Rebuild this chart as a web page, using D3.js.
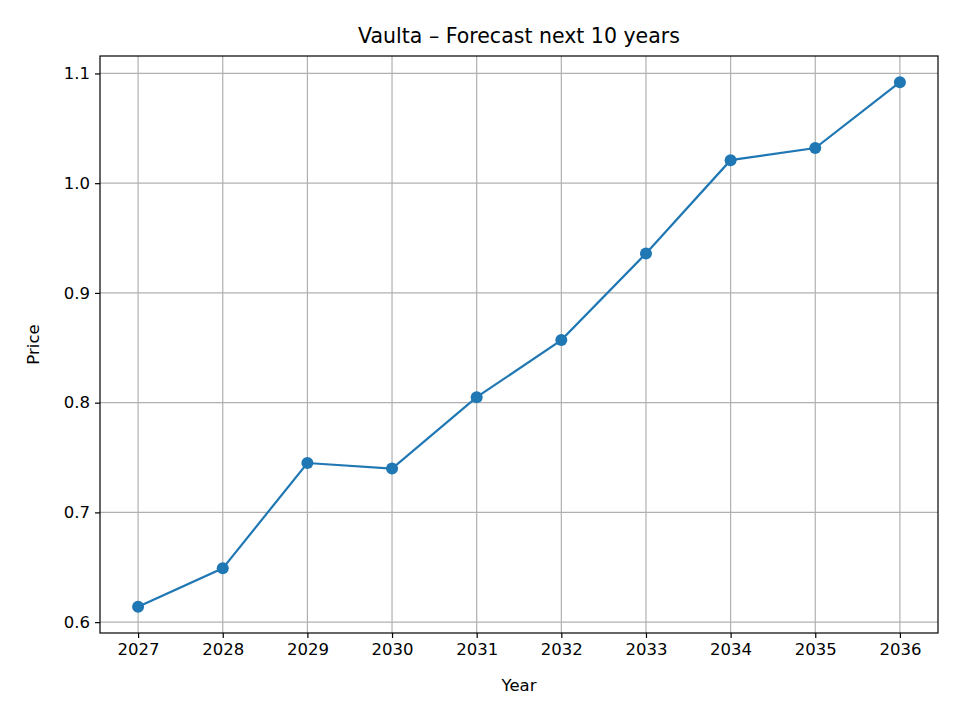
<!DOCTYPE html>
<html>
<head>
    <script src="https://d3js.org/d3.v7.min.js"></script>
    <style>
        body { margin: 0; background: #fff; }
        text { font-family: "DejaVu Sans", sans-serif; fill: #000; }
    </style>
</head>
<body>
    <div id="chart"></div>

    <script>
        // Data
        const years = [2027, 2028, 2029, 2030, 2031, 2032, 2033, 2034, 2035, 2036];
        const prices = [0.614, 0.649, 0.745, 0.740, 0.805, 0.857, 0.936, 1.021, 1.032, 1.092];
        const yTicks = [0.6, 0.7, 0.8, 0.9, 1.0, 1.1];

        const width = 960, height = 720;
        const margin = { top: 56, right: 22, bottom: 87, left: 100 };
        const iw = width - margin.left - margin.right;
        const ih = height - margin.top - margin.bottom;

        const svg = d3.select("#chart").append("svg")
            .attr("width", width)
            .attr("height", height);

        const g = svg.append("g")
            .attr("transform", `translate(${margin.left},${margin.top})`);

        // 5% padding like matplotlib
        const xPad = (d3.max(years) - d3.min(years)) * 0.05;
        const x = d3.scaleLinear()
            .domain([d3.min(years) - xPad, d3.max(years) + xPad])
            .range([0, iw]);

        const yMin = d3.min(prices), yMax = d3.max(prices);
        const yPad = (yMax - yMin) * 0.05;
        const y = d3.scaleLinear()
            .domain([yMin - yPad, yMax + yPad])
            .range([ih, 0]);

        // grid
        g.append("g").selectAll("line").data(years).join("line")
            .attr("x1", d => x(d)).attr("x2", d => x(d))
            .attr("y1", 0).attr("y2", ih)
            .attr("stroke", "#b0b0b0").attr("stroke-width", 1.2);
        g.append("g").selectAll("line").data(yTicks).join("line")
            .attr("y1", d => y(d)).attr("y2", d => y(d))
            .attr("x1", 0).attr("x2", iw)
            .attr("stroke", "#b0b0b0").attr("stroke-width", 1.2);

        // axes
        const xAxis = g.append("g")
            .attr("transform", `translate(0,${ih})`)
            .call(d3.axisBottom(x).tickValues(years).tickFormat(d3.format("d")).tickSize(5).tickPadding(5));
        const yAxis = g.append("g")
            .call(d3.axisLeft(y).tickValues(yTicks).tickFormat(d3.format(".1f")).tickSize(5).tickPadding(5));
        [xAxis, yAxis].forEach(a => {
            a.select(".domain").remove();
            a.selectAll("text").style("font-size", "16.5px").style("font-family", "DejaVu Sans");
            a.selectAll("line").attr("stroke", "#000").attr("stroke-width", 1.2);
        });

        // frame
        g.append("rect")
            .attr("width", iw).attr("height", ih)
            .attr("fill", "none").attr("stroke", "#000").attr("stroke-width", 1.2);

        // line + markers
        const line = d3.line().x((d, i) => x(years[i])).y(d => y(d));
        g.append("path")
            .datum(prices)
            .attr("d", line)
            .attr("fill", "none")
            .attr("stroke", "#1f77b4")
            .attr("stroke-width", 2.2);
        g.selectAll("circle").data(prices).join("circle")
            .attr("cx", (d, i) => x(years[i]))
            .attr("cy", d => y(d))
            .attr("r", 6)
            .attr("fill", "#1f77b4");

        // labels
        svg.append("text")
            .attr("x", margin.left + iw / 2).attr("y", 43)
            .attr("text-anchor", "middle")
            .style("font-size", "20.5px")
            .text("Vaulta – Forecast next 10 years");
        svg.append("text")
            .attr("x", margin.left + iw / 2).attr("y", 691)
            .attr("text-anchor", "middle")
            .style("font-size", "16.5px")
            .text("Year");
        svg.append("text")
            .attr("transform", `translate(39,${margin.top + ih / 2}) rotate(-90)`)
            .attr("text-anchor", "middle")
            .style("font-size", "16.5px")
            .text("Price");
    </script>
</body>
</html>
